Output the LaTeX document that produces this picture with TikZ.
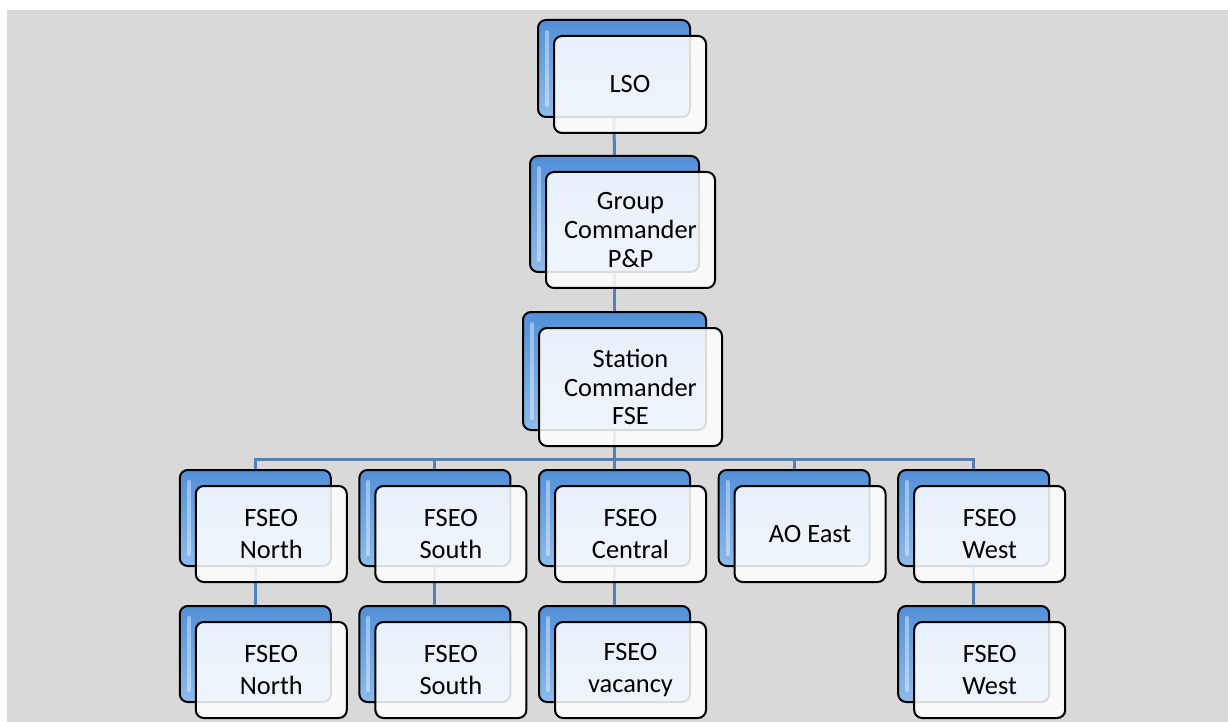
\documentclass[tikz,border=0pt]{standalone}
\usepackage{fontspec}
\setmainfont{Carlito}
\usetikzlibrary{positioning}
\pgfdeclarelayer{bg}
\pgfdeclarelayer{links}
\pgfsetlayers{bg,links,main}
\definecolor{panelgrey}{HTML}{D9D9D9}
\definecolor{linkblue}{HTML}{4F81BD}
\definecolor{backtop}{HTML}{5290D8}
\definecolor{backbot}{HTML}{8DBBEB}
\tikzset{
  back/.style={draw=black, line width=1pt, rounded corners=4pt,
    top color=backtop, bottom color=backbot,
    minimum width=75.5pt, minimum height=48pt, inner sep=0pt,
    path picture={\draw[white, opacity=0.4, line width=2pt, line cap=round]
      ([shift={(4.5pt,-6pt)}]path picture bounding box.north west) --
      ([shift={(4.5pt,6pt)}]path picture bounding box.south west);}},
  front/.style={draw=black, line width=1pt, rounded corners=4pt,
    fill=white, fill opacity=0.86, text opacity=1,
    minimum width=75.5pt, minimum height=48pt, inner sep=0pt,
    align=center, font=\fontsize{13.2}{15.8}\selectfont},
  tight/.style={font=\fontsize{13.2}{14.3}\selectfont},
  link/.style={draw=linkblue, line width=1.5pt},
}

\begin{document}
\begin{tikzpicture}[x=0.5pt, y=-0.5pt, node distance=89.8pt]
  \useasboundingbox (0,0) rectangle (1228,722);
  \begin{pgfonlayer}{bg}
    \fill[panelgrey] (7,10) rectangle (1228,722);
  \end{pgfonlayer}

  % top of the chain
  \node[back, minimum width=76pt, minimum height=48.5pt] (lsob) at (614,68.5) {};
  \node[front, minimum width=76pt, minimum height=48.5pt] (lso) at ([shift={(8pt,-8pt)}]lsob.center) {LSO};
  \node[back, minimum width=84.5pt, minimum height=58pt] (grpb) at (614.5,214) {};
  \node[front, tight, minimum width=84.5pt, minimum height=58pt] (grp) at ([shift={(8pt,-8pt)}]grpb.center) {Group\\Commander\\P\&P};
  \node[back, minimum width=91.5pt, minimum height=59pt] (stnb) at (614.5,371) {};
  \node[front, tight, minimum width=91.5pt, minimum height=59pt] (stn) at ([shift={(8pt,-8pt)}]stnb.center) {Station\\Commander\\FSE};

  % FSEO row
  \node[back] (ctrb) at (614.5,518) {};
  \node[back] (sthb) [left of=ctrb] {};
  \node[back] (nthb) [left of=sthb] {};
  \node[back] (eastb) [right of=ctrb] {};
  \node[back] (wstb) [right of=eastb] {};
  \node[front] (ctr) at ([shift={(8pt,-8pt)}]ctrb.center) {FSEO\\Central};
  \node[front] (sth) at ([shift={(8pt,-8pt)}]sthb.center) {FSEO\\South};
  \node[front] (nth) at ([shift={(8pt,-8pt)}]nthb.center) {FSEO\\North};
  \node[front] (east) at ([shift={(8pt,-8pt)}]eastb.center) {AO East};
  \node[front] (wst) at ([shift={(8pt,-8pt)}]wstb.center) {FSEO\\West};

  % bottom row
  \node[back] (ctrlb) at (614.5,654) {};
  \node[back] (sthlb) [left of=ctrlb] {};
  \node[back] (nthlb) [left of=sthlb] {};
  \node[back] (wstlb) [right of=ctrlb, xshift=89.8pt] {};
  \node[front] (ctrl) at ([shift={(8pt,-8pt)}]ctrlb.center) {FSEO\\vacancy};
  \node[front] (sthl) at ([shift={(8pt,-8pt)}]sthlb.center) {FSEO\\South};
  \node[front] (nthl) at ([shift={(8pt,-8pt)}]nthlb.center) {FSEO\\North};
  \node[front] (wstl) at ([shift={(8pt,-8pt)}]wstlb.center) {FSEO\\West};

  \coordinate (bus) at (614.5,459);
  \begin{pgfonlayer}{links}
    \draw[link] (lsob) -- (grpb);
    \draw[link] (grpb) -- (stnb);
    \draw[link] (stnb.south) -- (bus) -| (nthb.north);
    \draw[link] (bus) -| (sthb.north);
    \draw[link] (bus) -- (ctrb.north);
    \draw[link] (bus) -| (eastb.north);
    \draw[link] (bus) -| (wstb.north);
    \draw[link] (nthb) -- (nthlb);
    \draw[link] (sthb) -- (sthlb);
    \draw[link] (ctrb) -- (ctrlb);
    \draw[link] (wstb) -- (wstlb);
  \end{pgfonlayer}
\end{tikzpicture}
\end{document}
